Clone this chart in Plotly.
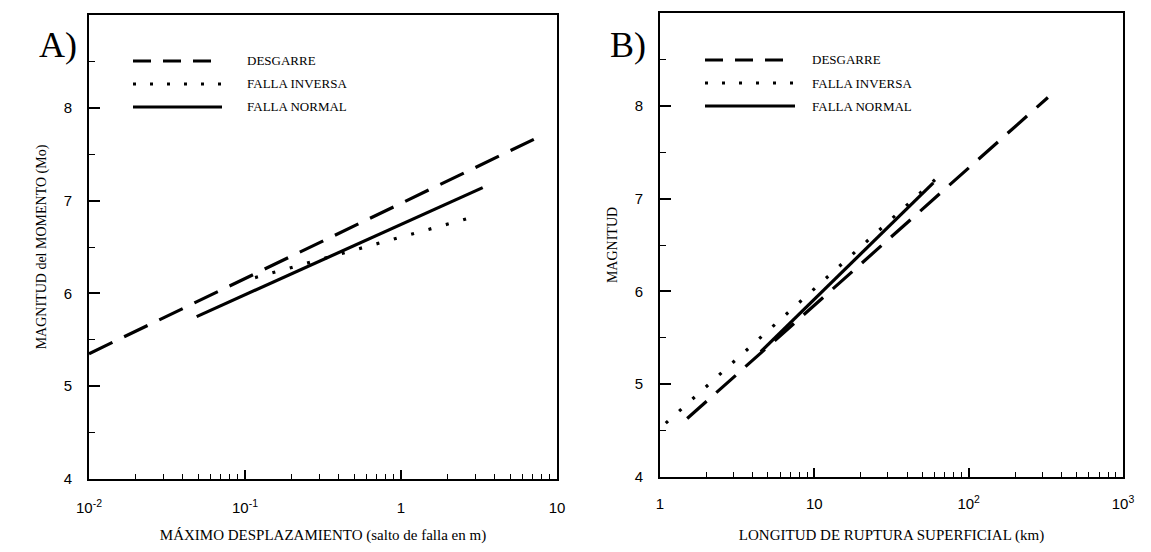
import plotly.graph_objects as go

# ---- data ----
# Panel A: magnitude vs maximum displacement (m)
a_desgarre_x = [0.01, 7.1]
a_desgarre_y = [5.35, 7.66]
a_inversa_x = [0.116, 2.72]
a_inversa_y = [6.17, 6.81]
a_normal_x = [0.049, 3.34]
a_normal_y = [5.75, 7.14]

# Panel B: magnitude vs surface rupture length (km)
b_desgarre_x = [1.5, 326]
b_desgarre_y = [4.63, 8.09]
b_inversa_x = [1.09, 68]
b_inversa_y = [4.58, 7.28]
b_normal_x = [4.5, 59]
b_normal_y = [5.35, 7.17]

legend_names = ["DESGARRE", "FALLA INVERSA", "FALLA NORMAL"]

a_xtick_vals = [0.01, 0.1, 1, 10]
a_xtick_text = ["10<sup>-2</sup>", "10<sup>-1</sup>", "1", "10"]
b_xtick_vals = [1, 10, 100, 1000]
b_xtick_text = ["1", "10", "10<sup>2</sup>", "10<sup>3</sup>"]
y_ticks = [4, 5, 6, 7, 8, 9]

# ---- styles / geometry ----
OFF = 8                      # default page body margin
W, H = 1151 - 2 * OFF, 552 - 2 * OFF
DASH = "26px,13px"
DOT = "3px,15px"
LW = 3.2
SERIF = "Liberation Serif"
SANS = "Liberation Sans"


def px(x):
    return (x - OFF) / W


def py(y):
    return 1 - (y - OFF) / H


def minor_vals(lo_exp, hi_exp):
    vals = []
    for e in range(lo_exp, hi_exp):
        for m in range(2, 10):
            vals.append(m * 10 ** e)
    return vals


fig = go.Figure()

styles = [DASH, DOT, "solid"]
series_a = [(a_desgarre_x, a_desgarre_y), (a_inversa_x, a_inversa_y), (a_normal_x, a_normal_y)]
series_b = [(b_desgarre_x, b_desgarre_y), (b_inversa_x, b_inversa_y), (b_normal_x, b_normal_y)]

for (xs, ys), dash, name in zip(series_a, styles, legend_names):
    fig.add_trace(go.Scatter(x=xs, y=ys, mode="lines", name=name, showlegend=False,
                             line=dict(color="black", width=LW, dash=dash),
                             xaxis="x", yaxis="y"))
for (xs, ys), dash, name in zip(series_b, styles, legend_names):
    fig.add_trace(go.Scatter(x=xs, y=ys, mode="lines", name=name, showlegend=False,
                             line=dict(color="black", width=LW, dash=dash),
                             xaxis="x2", yaxis="y2"))

ax_common = dict(showline=True, linecolor="black", linewidth=2, mirror=True,
                 showgrid=False, zeroline=False, ticks="inside", tickcolor="black",
                 tickwidth=1.6, automargin=False)

fig.update_layout(
    width=W, height=H,
    margin=dict(l=0, r=0, t=0, b=0),
    paper_bgcolor="white", plot_bgcolor="white",
    showlegend=False,
    xaxis=dict(type="log", range=[-2, 1], domain=[px(89), px(557)], anchor="y",
               tickvals=a_xtick_vals, ticktext=a_xtick_text, ticklen=9,
               minor=dict(tickvals=minor_vals(-2, 1), ticks="inside", ticklen=5,
                          tickcolor="black", tickwidth=1.4),
               tickfont=dict(family=SANS, size=15, color="black"), ticklabelstandoff=14,
               title=dict(text="MÁXIMO DESPLAZAMIENTO (salto de falla en m)",
                          font=dict(family=SERIF, size=15, color="black"), standoff=14),
               **ax_common),
    yaxis=dict(range=[4, 9], domain=[py(479), py(15)], anchor="x",
               tickvals=y_ticks, ticklen=11,
               minor=dict(dtick=0.5, ticks="inside", ticklen=6, tickcolor="black",
                          tickwidth=1.4),
               tickfont=dict(family=SANS, size=15, color="black"), ticklabelstandoff=12,
               title=dict(text="MAGNITUD del MOMENTO (Mo)",
                          font=dict(family=SERIF, size=14, color="black"), standoff=14),
               **ax_common),
    xaxis2=dict(type="log", range=[0, 3], domain=[px(660), px(1123)], anchor="y2",
                tickvals=b_xtick_vals, ticktext=b_xtick_text, ticklen=9,
                minor=dict(tickvals=minor_vals(0, 3), ticks="inside", ticklen=5,
                           tickcolor="black", tickwidth=1.4),
                tickfont=dict(family=SANS, size=15, color="black"), ticklabelstandoff=12,
                title=dict(text="LONGITUD DE RUPTURA SUPERFICIAL (km)",
                           font=dict(family=SERIF, size=15, color="black"), standoff=18),
                **ax_common),
    yaxis2=dict(range=[4, 9], domain=[py(477), py(13)], anchor="x2",
                tickvals=y_ticks, ticklen=11,
                minor=dict(dtick=0.5, ticks="inside", ticklen=6, tickcolor="black",
                           tickwidth=1.4),
                tickfont=dict(family=SANS, size=15, color="black"), ticklabelstandoff=12,
                title=dict(text="MAGNITUD",
                           font=dict(family=SERIF, size=14, color="black"), standoff=14),
                **ax_common),
)

# ---- legends drawn as samples + text (page pixel positions) ----
legend_a = dict(x0=133, x1=222, xt=245, ys=[61, 84, 107])
legend_b = dict(x0=705, x1=795, xt=810, ys=[60, 83, 106])

for lg in (legend_a, legend_b):
    for y, dash, name in zip(lg["ys"], styles, legend_names):
        fig.add_shape(type="line", xref="paper", yref="paper",
                      x0=px(lg["x0"]), x1=px(lg["x1"]), y0=py(y), y1=py(y),
                      line=dict(color="black", width=LW,
                                dash="18px,12px" if dash == DASH else ("3px,14px" if dash == DOT else "solid")))
        fig.add_annotation(xref="paper", yref="paper", x=px(lg["xt"]), y=py(y),
                           text=name, showarrow=False, xanchor="left", yanchor="middle",
                           font=dict(family=SERIF, size=13, color="black"))

fig.add_annotation(xref="paper", yref="paper", x=px(58), y=py(45), text="A)",
                   showarrow=False, xanchor="center", yanchor="middle",
                   font=dict(family=SERIF, size=36, color="black"))
fig.add_annotation(xref="paper", yref="paper", x=px(628), y=py(45), text="B)",
                   showarrow=False, xanchor="center", yanchor="middle",
                   font=dict(family=SERIF, size=36, color="black"))

fig.write_html("out.html")
